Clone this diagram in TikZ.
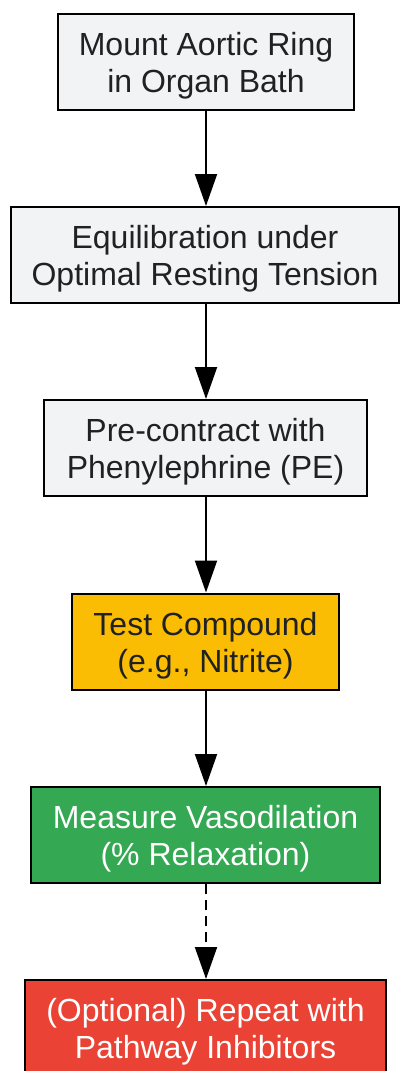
\documentclass[tikz,border=0pt]{standalone}
\usepackage{fontspec}
\setmainfont{Liberation Sans}
\usetikzlibrary{arrows.meta}
\definecolor{gfill}{HTML}{F1F3F4}
\definecolor{tdark}{HTML}{202124}
\definecolor{yfill}{HTML}{FBBC04}
\definecolor{grfill}{HTML}{34A853}
\definecolor{rfill}{HTML}{EA4335}
\newcommand{\topstrut}{\rule{0pt}{31pt}}
\tikzset{
  stepbox/.style={draw=black, line width=2pt, minimum height=96pt, inner sep=0pt, align=center,
    font=\fontsize{32}{37}\selectfont, text=tdark},
  conn/.style={line width=2pt, -{Triangle[length=32pt,width=22pt]}},
}
\begin{document}
\begin{tikzpicture}[x=1pt,y=-1pt]
\useasboundingbox (0,0) rectangle (400,1071);
\node[stepbox, fill=gfill, minimum width=296pt] (n1) at (206,62) {\topstrut Mount Aortic Ring\\in Organ Bath};
\node[stepbox, fill=gfill, minimum width=388pt] (n2) at (205,255) {\topstrut Equilibration under\\Optimal Resting Tension};
\node[stepbox, fill=gfill, minimum width=323pt] (n3) at (205.5,448) {\topstrut Pre-contract with\\Phenylephrine (PE)};
\node[stepbox, fill=yfill, minimum width=267pt] (n4) at (205.5,641.5) {\topstrut Test Compound\\(e.g., Nitrite)};
\node[stepbox, fill=grfill, text=white, minimum width=349pt] (n5) at (205.5,835) {\topstrut Measure Vasodilation\\(\% Relaxation)};
\node[stepbox, fill=rfill, text=white, minimum width=361pt] (n6) at (205.5,1028) {\topstrut (Optional) Repeat with\\Pathway Inhibitors};
\draw[conn] (n1.south -| 206,0) -- (n2.north -| 206,0);
\draw[conn] (n2.south -| 206,0) -- (n3.north -| 206,0);
\draw[conn] (n3.south -| 206,0) -- (n4.north -| 206,0);
\draw[conn] (n4.south -| 206,0) -- (n5.north -| 206,0);
\draw[conn, dashed, dash pattern=on 10pt off 6pt] (n5.south -| 206,0) -- (n6.north -| 206,0);
\end{tikzpicture}
\end{document}
